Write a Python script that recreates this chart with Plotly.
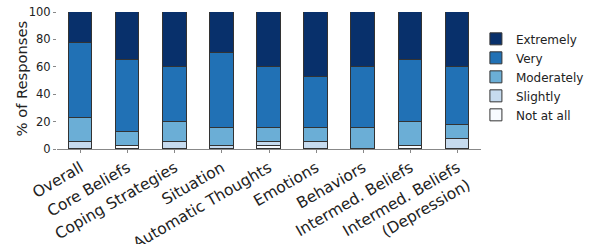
import plotly.graph_objects as go

categories = ["Overall", "Core Beliefs", "Coping Strategies", "Situation",
              "Automatic Thoughts", "Emotions", "Behaviors", "Intermed. Beliefs",
              "Intermed. Beliefs<br>(Depression)"]
not_at_all = [0, 2.5, 0, 0, 2.5, 0, 0, 2.5, 0]
slightly = [5, 0, 5, 2.5, 2.5, 5, 0, 0, 7.5]
moderately = [17.5, 10, 15, 12.5, 10, 10, 15, 17.5, 10]
very = [55, 52.5, 40, 55, 45, 37.5, 45, 45, 42.5]
extremely = [22.5, 35, 40, 30, 40, 47.5, 40, 35, 40]

series = [("Not at all", not_at_all, "#f7fbff"),
          ("Slightly", slightly, "#c6dbef"),
          ("Moderately", moderately, "#6baed6"),
          ("Very", very, "#2171b5"),
          ("Extremely", extremely, "#08306b")]

fig = go.Figure()
for name, vals, col in series:
    fig.add_trace(go.Bar(x=categories, y=vals, name=name, width=0.5,
                         marker=dict(color=col, line=dict(color="#333333", width=1))))

fig.update_layout(
    barmode="stack",
    width=594, height=244,
    margin=dict(l=57, r=113, t=12, b=95, autoexpand=False),
    plot_bgcolor="white", paper_bgcolor="white",
    font=dict(family="DejaVu Sans", color="#222222"),
    legend=dict(traceorder="reversed", x=0.988, xanchor="left", y=0.91, yanchor="top",
                font=dict(size=12), bgcolor="rgba(0,0,0,0)"),
    bargap=0,
    annotations=[dict(text="% of Responses", xref="paper", yref="paper",
                      x=-0.0849, y=0.515, xanchor="center", yanchor="middle",
                      textangle=-90, showarrow=False, font=dict(size=14.7))],
)
fig.update_xaxes(tickangle=-30, tickfont=dict(size=15.5), showline=True, linecolor="#888888",
                 linewidth=1, ticks="outside", ticklen=3, tickcolor="#888888",
                 range=[-0.5, 8.5], automargin=False)
fig.update_yaxes(range=[0, 100], tickvals=[0, 20, 40, 60, 80, 100], tickfont=dict(size=11.5),
                 showgrid=False, zeroline=False, ticks="outside", ticklen=3, tickcolor="#888888",
                 automargin=False)
fig.write_html("out.html", config={"displayModeBar": False},
               post_script="document.body.style.margin='0';document.body.style.overflow='hidden';")
